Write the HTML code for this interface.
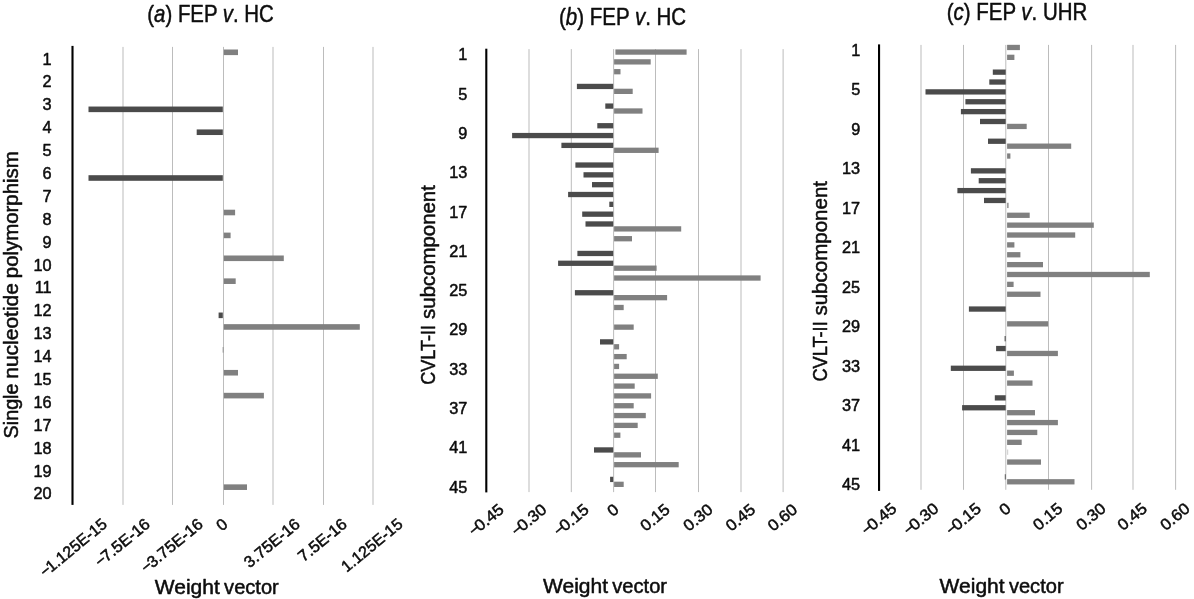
<!DOCTYPE html>
<html lang="en"><head><meta charset="utf-8"><title>Weight vectors</title>
<style>
html,body{margin:0;padding:0;background:#fff;}
body{width:1194px;height:599px;overflow:hidden;}
svg{display:block;font-family:"Liberation Sans",sans-serif;}
text{fill:#0d0d0d;stroke:#0d0d0d;stroke-width:0.5px;stroke-linejoin:round;}
</style></head><body>
<svg width="1194" height="599" viewBox="0 0 1194 599">
<rect x="0" y="0" width="1194" height="599" fill="#fff"/>
<rect x="122.50" y="46.90" width="1.00" height="458.00" fill="#bcbcbc"/>
<rect x="172.00" y="46.90" width="1.00" height="458.00" fill="#bcbcbc"/>
<rect x="223.00" y="46.90" width="1.00" height="458.00" fill="#bcbcbc"/>
<rect x="272.50" y="46.90" width="1.00" height="458.00" fill="#bcbcbc"/>
<rect x="323.00" y="46.90" width="1.00" height="458.00" fill="#bcbcbc"/>
<rect x="372.50" y="46.90" width="1.00" height="458.00" fill="#bcbcbc"/>
<rect x="71.45" y="45.90" width="2.10" height="459.00" fill="#000"/>
<rect x="223.80" y="49.50" width="14.20" height="5.60" fill="#808080"/>
<rect x="223.80" y="209.71" width="11.30" height="5.60" fill="#808080"/>
<rect x="223.80" y="232.60" width="6.80" height="5.60" fill="#808080"/>
<rect x="223.80" y="255.49" width="60.00" height="5.60" fill="#808080"/>
<rect x="223.80" y="278.38" width="11.90" height="5.60" fill="#808080"/>
<rect x="223.80" y="324.15" width="136.00" height="5.60" fill="#808080"/>
<rect x="222.60" y="347.04" width="1.30" height="5.60" fill="#a0a0a0"/>
<rect x="223.80" y="369.93" width="14.20" height="5.60" fill="#808080"/>
<rect x="223.80" y="392.81" width="40.10" height="5.60" fill="#808080"/>
<rect x="223.80" y="484.36" width="23.20" height="5.60" fill="#808080"/>
<rect x="88.50" y="106.54" width="134.30" height="5.60" fill="#4b4b4b"/>
<rect x="196.70" y="129.43" width="26.10" height="5.60" fill="#4b4b4b"/>
<rect x="88.50" y="175.20" width="134.30" height="5.60" fill="#4b4b4b"/>
<rect x="218.60" y="312.53" width="4.20" height="5.60" fill="#4b4b4b"/>
<text x="51.60" y="64.59" text-anchor="end" font-size="16.3">1</text>
<text x="51.60" y="87.48" text-anchor="end" font-size="16.3">2</text>
<text x="51.60" y="110.37" text-anchor="end" font-size="16.3">3</text>
<text x="51.60" y="133.26" text-anchor="end" font-size="16.3">4</text>
<text x="51.60" y="156.14" text-anchor="end" font-size="16.3">5</text>
<text x="51.60" y="179.03" text-anchor="end" font-size="16.3">6</text>
<text x="51.60" y="201.92" text-anchor="end" font-size="16.3">7</text>
<text x="51.60" y="224.81" text-anchor="end" font-size="16.3">8</text>
<text x="51.60" y="247.69" text-anchor="end" font-size="16.3">9</text>
<text x="51.60" y="270.58" text-anchor="end" font-size="16.3">10</text>
<text x="51.60" y="293.47" text-anchor="end" font-size="16.3">11</text>
<text x="51.60" y="316.36" text-anchor="end" font-size="16.3">12</text>
<text x="51.60" y="339.24" text-anchor="end" font-size="16.3">13</text>
<text x="51.60" y="362.13" text-anchor="end" font-size="16.3">14</text>
<text x="51.60" y="385.02" text-anchor="end" font-size="16.3">15</text>
<text x="51.60" y="407.91" text-anchor="end" font-size="16.3">16</text>
<text x="51.60" y="430.79" text-anchor="end" font-size="16.3">17</text>
<text x="51.60" y="453.68" text-anchor="end" font-size="16.3">18</text>
<text x="51.60" y="476.57" text-anchor="end" font-size="16.3">19</text>
<text x="51.60" y="499.46" text-anchor="end" font-size="16.3">20</text>
<text transform="translate(18.10,438.40) rotate(-90)" font-size="20" textLength="54.90" lengthAdjust="spacingAndGlyphs">Single</text>
<text transform="translate(18.10,378.80) rotate(-90)" font-size="20" textLength="95.80" lengthAdjust="spacingAndGlyphs">nucleotide</text>
<text transform="translate(18.10,278.20) rotate(-90)" font-size="20" textLength="127.00" lengthAdjust="spacingAndGlyphs">polymorphism</text>
<text transform="translate(73.00,547.41) rotate(-39.5) scale(1.0,1)" text-anchor="middle" font-size="16" y="5.75">−<tspan dx="-1.5">1.125E-15</tspan></text>
<text transform="translate(122.00,542.36) rotate(-39.5) scale(1.03,1)" text-anchor="middle" font-size="16" y="5.75">−<tspan dx="-1.5">7.5E-16</tspan></text>
<text transform="translate(171.50,545.28) rotate(-39.5) scale(1.03,1)" text-anchor="middle" font-size="16" y="5.75">−<tspan dx="-1.5">3.75E-16</tspan></text>
<text transform="translate(221.70,524.35) rotate(-39.5) scale(1.03,1)" text-anchor="middle" font-size="16" y="5.75">0</text>
<text transform="translate(271.70,542.71) rotate(-39.5) scale(1.03,1)" text-anchor="middle" font-size="16" y="5.75">3.75E-16</text>
<text transform="translate(322.20,539.79) rotate(-39.5) scale(1.03,1)" text-anchor="middle" font-size="16" y="5.75">7.5E-16</text>
<text transform="translate(371.70,544.92) rotate(-39.5) scale(1.0,1)" text-anchor="middle" font-size="16" y="5.75">1.125E-15</text>
<text x="154.80" y="593.80" font-size="20" textLength="65.00" lengthAdjust="spacingAndGlyphs">Weight</text>
<text x="224.10" y="593.80" font-size="20" textLength="54.70" lengthAdjust="spacingAndGlyphs">vector</text>
<text x="210.55" y="21.80" text-anchor="middle" font-size="23.6" textLength="126.50" lengthAdjust="spacingAndGlyphs">(<tspan font-style="italic">a</tspan>) FEP <tspan font-style="italic">v</tspan>. HC</text>
<rect x="528.50" y="49.10" width="1.00" height="443.00" fill="#bcbcbc"/>
<rect x="570.80" y="49.10" width="1.00" height="443.00" fill="#bcbcbc"/>
<rect x="613.10" y="49.10" width="1.00" height="443.00" fill="#bcbcbc"/>
<rect x="655.00" y="49.10" width="1.00" height="443.00" fill="#bcbcbc"/>
<rect x="698.00" y="49.10" width="1.00" height="443.00" fill="#bcbcbc"/>
<rect x="740.50" y="49.10" width="1.00" height="443.00" fill="#bcbcbc"/>
<rect x="782.60" y="49.10" width="1.00" height="443.00" fill="#bcbcbc"/>
<rect x="485.25" y="48.70" width="2.10" height="443.70" fill="#000"/>
<rect x="615.40" y="49.41" width="71.20" height="5.30" fill="#808080"/>
<rect x="614.10" y="59.23" width="36.60" height="5.30" fill="#808080"/>
<rect x="614.10" y="69.05" width="6.40" height="5.30" fill="#808080"/>
<rect x="614.10" y="88.70" width="18.60" height="5.30" fill="#808080"/>
<rect x="614.10" y="108.35" width="28.40" height="5.30" fill="#808080"/>
<rect x="614.10" y="147.65" width="44.50" height="5.30" fill="#808080"/>
<rect x="614.10" y="226.25" width="67.10" height="5.30" fill="#808080"/>
<rect x="614.10" y="236.07" width="17.90" height="5.30" fill="#808080"/>
<rect x="614.10" y="265.54" width="42.50" height="5.30" fill="#808080"/>
<rect x="614.10" y="275.37" width="146.50" height="5.30" fill="#808080"/>
<rect x="614.10" y="295.02" width="53.00" height="5.30" fill="#808080"/>
<rect x="614.10" y="304.84" width="9.60" height="5.30" fill="#808080"/>
<rect x="614.10" y="324.49" width="19.60" height="5.30" fill="#808080"/>
<rect x="614.10" y="344.14" width="5.00" height="5.30" fill="#808080"/>
<rect x="614.10" y="353.96" width="12.60" height="5.30" fill="#808080"/>
<rect x="614.10" y="363.79" width="5.00" height="5.30" fill="#808080"/>
<rect x="614.10" y="373.61" width="43.70" height="5.30" fill="#808080"/>
<rect x="614.10" y="383.44" width="20.60" height="5.30" fill="#808080"/>
<rect x="614.10" y="393.26" width="37.00" height="5.30" fill="#808080"/>
<rect x="614.10" y="403.09" width="19.60" height="5.30" fill="#808080"/>
<rect x="614.10" y="412.91" width="31.70" height="5.30" fill="#808080"/>
<rect x="614.10" y="422.74" width="23.60" height="5.30" fill="#808080"/>
<rect x="614.10" y="432.56" width="6.30" height="5.30" fill="#808080"/>
<rect x="614.10" y="452.21" width="26.90" height="5.30" fill="#808080"/>
<rect x="614.10" y="462.03" width="64.60" height="5.30" fill="#808080"/>
<rect x="614.10" y="481.68" width="9.60" height="5.30" fill="#808080"/>
<rect x="576.90" y="83.79" width="36.30" height="5.30" fill="#4b4b4b"/>
<rect x="605.30" y="103.44" width="7.90" height="5.30" fill="#4b4b4b"/>
<rect x="597.30" y="123.09" width="15.90" height="5.30" fill="#4b4b4b"/>
<rect x="512.10" y="132.91" width="101.10" height="5.30" fill="#4b4b4b"/>
<rect x="561.40" y="142.74" width="51.80" height="5.30" fill="#4b4b4b"/>
<rect x="575.40" y="162.39" width="37.80" height="5.30" fill="#4b4b4b"/>
<rect x="583.50" y="172.21" width="29.70" height="5.30" fill="#4b4b4b"/>
<rect x="592.00" y="182.04" width="21.20" height="5.30" fill="#4b4b4b"/>
<rect x="568.10" y="191.86" width="45.10" height="5.30" fill="#4b4b4b"/>
<rect x="609.30" y="201.68" width="3.90" height="5.30" fill="#4b4b4b"/>
<rect x="582.20" y="211.51" width="31.00" height="5.30" fill="#4b4b4b"/>
<rect x="585.50" y="221.33" width="27.70" height="5.30" fill="#4b4b4b"/>
<rect x="577.40" y="250.81" width="35.80" height="5.30" fill="#4b4b4b"/>
<rect x="558.10" y="260.63" width="55.10" height="5.30" fill="#4b4b4b"/>
<rect x="574.90" y="290.11" width="38.30" height="5.30" fill="#4b4b4b"/>
<rect x="600.00" y="339.23" width="13.20" height="5.30" fill="#4b4b4b"/>
<rect x="594.00" y="447.30" width="19.20" height="5.30" fill="#4b4b4b"/>
<rect x="610.10" y="476.77" width="3.10" height="5.30" fill="#4b4b4b"/>
<text x="467.40" y="60.36" text-anchor="end" font-size="16.3">1</text>
<text x="467.40" y="99.66" text-anchor="end" font-size="16.3">5</text>
<text x="467.40" y="138.96" text-anchor="end" font-size="16.3">9</text>
<text x="467.40" y="178.26" text-anchor="end" font-size="16.3">13</text>
<text x="467.40" y="217.55" text-anchor="end" font-size="16.3">17</text>
<text x="467.40" y="256.85" text-anchor="end" font-size="16.3">21</text>
<text x="467.40" y="296.15" text-anchor="end" font-size="16.3">25</text>
<text x="467.40" y="335.45" text-anchor="end" font-size="16.3">29</text>
<text x="467.40" y="374.74" text-anchor="end" font-size="16.3">33</text>
<text x="467.40" y="414.04" text-anchor="end" font-size="16.3">37</text>
<text x="467.40" y="453.34" text-anchor="end" font-size="16.3">41</text>
<text x="467.40" y="492.64" text-anchor="end" font-size="16.3">45</text>
<text transform="translate(434.80,384.80) rotate(-90)" font-size="20" textLength="59.90" lengthAdjust="spacingAndGlyphs">CVLT-II</text>
<text transform="translate(434.80,318.90) rotate(-90)" font-size="20" textLength="133.70" lengthAdjust="spacingAndGlyphs">subcomponent</text>
<text transform="translate(485.90,519.62) rotate(-39.5) scale(1.05,1)" text-anchor="middle" font-size="16" y="5.75">−<tspan dx="-2.2">0.45</tspan></text>
<text transform="translate(528.60,519.62) rotate(-39.5) scale(1.05,1)" text-anchor="middle" font-size="16" y="5.75">−<tspan dx="-2.2">0.30</tspan></text>
<text transform="translate(570.90,519.62) rotate(-39.5) scale(1.05,1)" text-anchor="middle" font-size="16" y="5.75">−<tspan dx="-2.2">0.15</tspan></text>
<text transform="translate(612.80,509.81) rotate(-39.5) scale(1.05,1)" text-anchor="middle" font-size="16" y="5.75">0</text>
<text transform="translate(654.70,517.23) rotate(-39.5) scale(1.05,1)" text-anchor="middle" font-size="16" y="5.75">0.15</text>
<text transform="translate(697.70,517.23) rotate(-39.5) scale(1.05,1)" text-anchor="middle" font-size="16" y="5.75">0.30</text>
<text transform="translate(740.20,517.23) rotate(-39.5) scale(1.05,1)" text-anchor="middle" font-size="16" y="5.75">0.45</text>
<text transform="translate(782.30,517.23) rotate(-39.5) scale(1.05,1)" text-anchor="middle" font-size="16" y="5.75">0.60</text>
<text x="543.00" y="592.80" font-size="20" textLength="65.00" lengthAdjust="spacingAndGlyphs">Weight</text>
<text x="612.30" y="592.80" font-size="20" textLength="54.70" lengthAdjust="spacingAndGlyphs">vector</text>
<text x="622.55" y="24.80" text-anchor="middle" font-size="23.6" textLength="127.30" lengthAdjust="spacingAndGlyphs">(<tspan font-style="italic">b</tspan>) FEP <tspan font-style="italic">v</tspan>. HC</text>
<rect x="920.50" y="44.90" width="1.00" height="444.90" fill="#bcbcbc"/>
<rect x="963.00" y="44.90" width="1.00" height="444.90" fill="#bcbcbc"/>
<rect x="1005.30" y="44.90" width="1.00" height="444.90" fill="#bcbcbc"/>
<rect x="1048.00" y="44.90" width="1.00" height="444.90" fill="#bcbcbc"/>
<rect x="1091.10" y="44.90" width="1.00" height="444.90" fill="#bcbcbc"/>
<rect x="1132.50" y="44.90" width="1.00" height="444.90" fill="#bcbcbc"/>
<rect x="1175.10" y="44.90" width="1.00" height="444.90" fill="#bcbcbc"/>
<rect x="878.00" y="44.40" width="2.10" height="446.50" fill="#000"/>
<rect x="1007.10" y="44.82" width="12.80" height="5.30" fill="#808080"/>
<rect x="1007.10" y="54.69" width="7.30" height="5.30" fill="#808080"/>
<rect x="1007.10" y="123.79" width="19.60" height="5.30" fill="#808080"/>
<rect x="1007.10" y="143.53" width="64.10" height="5.30" fill="#808080"/>
<rect x="1007.10" y="153.40" width="3.30" height="5.30" fill="#808080"/>
<rect x="1007.10" y="202.76" width="1.50" height="5.30" fill="#909090"/>
<rect x="1007.10" y="212.63" width="22.60" height="5.30" fill="#808080"/>
<rect x="1007.10" y="222.50" width="86.70" height="5.30" fill="#808080"/>
<rect x="1007.10" y="232.37" width="68.10" height="5.30" fill="#808080"/>
<rect x="1007.10" y="242.24" width="7.30" height="5.30" fill="#808080"/>
<rect x="1007.10" y="252.11" width="13.30" height="5.30" fill="#808080"/>
<rect x="1007.10" y="261.98" width="35.90" height="5.30" fill="#808080"/>
<rect x="1007.10" y="271.85" width="142.70" height="5.30" fill="#808080"/>
<rect x="1007.10" y="281.72" width="6.50" height="5.30" fill="#808080"/>
<rect x="1007.10" y="291.60" width="33.40" height="5.30" fill="#808080"/>
<rect x="1007.10" y="321.21" width="41.00" height="5.30" fill="#808080"/>
<rect x="1007.10" y="350.82" width="50.80" height="5.30" fill="#808080"/>
<rect x="1007.10" y="370.56" width="6.80" height="5.30" fill="#808080"/>
<rect x="1007.10" y="380.44" width="25.40" height="5.30" fill="#808080"/>
<rect x="1007.10" y="410.05" width="27.90" height="5.30" fill="#808080"/>
<rect x="1007.10" y="419.92" width="50.80" height="5.30" fill="#808080"/>
<rect x="1007.10" y="429.79" width="30.20" height="5.30" fill="#808080"/>
<rect x="1007.10" y="439.66" width="14.60" height="5.30" fill="#808080"/>
<rect x="1007.10" y="449.53" width="1.10" height="5.30" fill="#d0d0d0"/>
<rect x="1007.10" y="459.40" width="33.90" height="5.30" fill="#808080"/>
<rect x="1007.10" y="479.15" width="67.40" height="5.30" fill="#808080"/>
<rect x="992.80" y="69.50" width="12.90" height="5.30" fill="#4b4b4b"/>
<rect x="989.30" y="79.37" width="16.40" height="5.30" fill="#4b4b4b"/>
<rect x="925.50" y="89.24" width="80.20" height="5.30" fill="#4b4b4b"/>
<rect x="965.40" y="99.11" width="40.30" height="5.30" fill="#4b4b4b"/>
<rect x="960.90" y="108.98" width="44.80" height="5.30" fill="#4b4b4b"/>
<rect x="980.00" y="118.85" width="25.70" height="5.30" fill="#4b4b4b"/>
<rect x="988.00" y="138.59" width="17.70" height="5.30" fill="#4b4b4b"/>
<rect x="970.90" y="168.21" width="34.80" height="5.30" fill="#4b4b4b"/>
<rect x="978.70" y="178.08" width="27.00" height="5.30" fill="#4b4b4b"/>
<rect x="957.40" y="187.95" width="48.30" height="5.30" fill="#4b4b4b"/>
<rect x="984.00" y="197.82" width="21.70" height="5.30" fill="#4b4b4b"/>
<rect x="968.90" y="306.40" width="36.80" height="5.30" fill="#4b4b4b"/>
<rect x="1004.60" y="336.02" width="1.10" height="5.30" fill="#4b4b4b"/>
<rect x="996.10" y="345.89" width="9.60" height="5.30" fill="#4b4b4b"/>
<rect x="950.80" y="365.63" width="54.90" height="5.30" fill="#4b4b4b"/>
<rect x="994.80" y="395.24" width="10.90" height="5.30" fill="#4b4b4b"/>
<rect x="962.10" y="405.11" width="43.60" height="5.30" fill="#4b4b4b"/>
<rect x="1004.80" y="474.21" width="0.90" height="5.30" fill="#4b4b4b"/>
<text x="860.20" y="55.69" text-anchor="end" font-size="16.3">1</text>
<text x="860.20" y="95.17" text-anchor="end" font-size="16.3">5</text>
<text x="860.20" y="134.65" text-anchor="end" font-size="16.3">9</text>
<text x="860.20" y="174.14" text-anchor="end" font-size="16.3">13</text>
<text x="860.20" y="213.62" text-anchor="end" font-size="16.3">17</text>
<text x="860.20" y="253.11" text-anchor="end" font-size="16.3">21</text>
<text x="860.20" y="292.59" text-anchor="end" font-size="16.3">25</text>
<text x="860.20" y="332.08" text-anchor="end" font-size="16.3">29</text>
<text x="860.20" y="371.56" text-anchor="end" font-size="16.3">33</text>
<text x="860.20" y="411.05" text-anchor="end" font-size="16.3">37</text>
<text x="860.20" y="450.53" text-anchor="end" font-size="16.3">41</text>
<text x="860.20" y="490.01" text-anchor="end" font-size="16.3">45</text>
<text transform="translate(827.20,381.60) rotate(-90)" font-size="20" textLength="60.30" lengthAdjust="spacingAndGlyphs">CVLT-II</text>
<text transform="translate(827.20,315.60) rotate(-90)" font-size="20" textLength="134.60" lengthAdjust="spacingAndGlyphs">subcomponent</text>
<text transform="translate(878.55,518.72) rotate(-39.5) scale(1.05,1)" text-anchor="middle" font-size="16" y="5.75">−<tspan dx="-2.2">0.45</tspan></text>
<text transform="translate(920.50,518.72) rotate(-39.5) scale(1.05,1)" text-anchor="middle" font-size="16" y="5.75">−<tspan dx="-2.2">0.30</tspan></text>
<text transform="translate(963.00,518.72) rotate(-39.5) scale(1.05,1)" text-anchor="middle" font-size="16" y="5.75">−<tspan dx="-2.2">0.15</tspan></text>
<text transform="translate(1004.80,508.91) rotate(-39.5) scale(1.05,1)" text-anchor="middle" font-size="16" y="5.75">0</text>
<text transform="translate(1047.50,516.33) rotate(-39.5) scale(1.05,1)" text-anchor="middle" font-size="16" y="5.75">0.15</text>
<text transform="translate(1090.60,516.33) rotate(-39.5) scale(1.05,1)" text-anchor="middle" font-size="16" y="5.75">0.30</text>
<text transform="translate(1132.00,516.33) rotate(-39.5) scale(1.05,1)" text-anchor="middle" font-size="16" y="5.75">0.45</text>
<text transform="translate(1174.60,516.33) rotate(-39.5) scale(1.05,1)" text-anchor="middle" font-size="16" y="5.75">0.60</text>
<text x="939.60" y="592.90" font-size="20" textLength="65.00" lengthAdjust="spacingAndGlyphs">Weight</text>
<text x="1008.90" y="592.90" font-size="20" textLength="54.70" lengthAdjust="spacingAndGlyphs">vector</text>
<text x="1017.00" y="19.80" text-anchor="middle" font-size="23.6" textLength="140.40" lengthAdjust="spacingAndGlyphs">(<tspan font-style="italic">c</tspan>) FEP <tspan font-style="italic">v</tspan>. UHR</text>
</svg>
</body></html>
